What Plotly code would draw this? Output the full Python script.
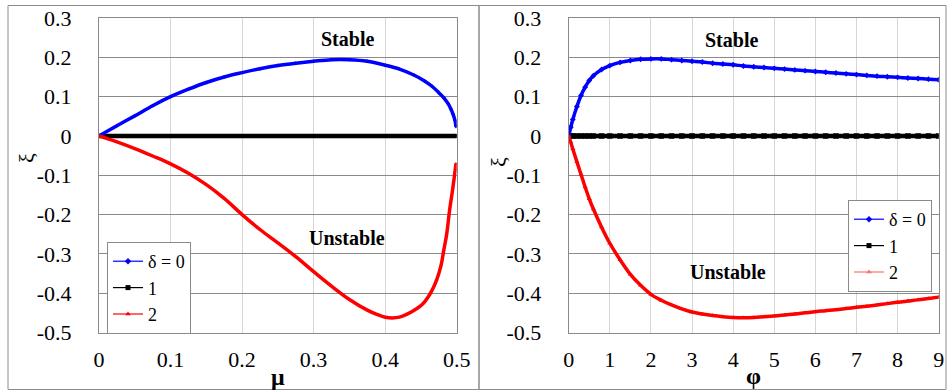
import plotly.graph_objects as go

# ---- left panel: xi versus mu ----
mu_blue = [0, 0.025, 0.05, 0.075, 0.1, 0.125, 0.15, 0.175, 0.2, 0.225, 0.25, 0.275, 0.3,
           0.325, 0.35, 0.375, 0.4, 0.42, 0.44, 0.455, 0.465, 0.475, 0.482, 0.488, 0.492,
           0.495, 0.4975, 0.499]
xi_blue = [0, 0.026, 0.051, 0.077, 0.1, 0.119, 0.136, 0.15, 0.161, 0.171, 0.179, 0.185, 0.19,
           0.194, 0.194, 0.19, 0.18, 0.17, 0.155, 0.14, 0.127, 0.11, 0.097, 0.082, 0.068,
           0.055, 0.04, 0.024]

mu_black = [0, 0.025, 0.05, 0.075, 0.1, 0.125, 0.15, 0.175, 0.2, 0.225, 0.25, 0.275, 0.3,
            0.325, 0.35, 0.375, 0.4, 0.425, 0.45, 0.475, 0.5]
xi_black = [0] * 21

mu_red = [0, 0.025, 0.05, 0.075, 0.1, 0.125, 0.15, 0.175, 0.2, 0.225, 0.25, 0.275, 0.3,
          0.325, 0.35, 0.375, 0.39, 0.4, 0.41, 0.42, 0.43, 0.44, 0.449, 0.456, 0.464,
          0.472, 0.478, 0.482, 0.486, 0.49, 0.494, 0.497, 0.499]
xi_red = [0, -0.015, -0.032, -0.051, -0.071, -0.095, -0.124, -0.159, -0.2, -0.238, -0.272,
          -0.307, -0.345, -0.382, -0.416, -0.443, -0.455, -0.461, -0.463, -0.461, -0.454,
          -0.444, -0.433, -0.42, -0.398, -0.366, -0.33, -0.29, -0.25, -0.19, -0.14, -0.1,
          -0.07]

# ---- right panel: xi versus phi ----
phi = [0, 0.05, 0.1, 0.2, 0.3, 0.4, 0.5, 0.6, 0.8, 1.0, 1.25, 1.5, 1.75, 2.0, 2.25, 2.5,
       2.75, 3.0, 3.25, 3.5, 3.75, 4.0, 4.25, 4.5, 4.75, 5.0, 5.25, 5.5, 5.75, 6.0, 6.25,
       6.5, 6.75, 7.0, 7.25, 7.5, 7.75, 8.0, 8.25, 8.5, 8.75, 9.0]
xi_blue_phi = [0, 0.022, 0.042, 0.075, 0.103, 0.124, 0.141, 0.153, 0.169, 0.179, 0.187,
               0.192, 0.195, 0.196, 0.196, 0.194, 0.192, 0.19, 0.188, 0.185, 0.183, 0.181,
               0.178, 0.176, 0.174, 0.172, 0.170, 0.168, 0.166, 0.164, 0.162, 0.160, 0.158,
               0.156, 0.154, 0.152, 0.1505, 0.149, 0.1475, 0.146, 0.1445, 0.143]
xi_black_phi = [0] * len(phi)
xi_red_phi = [0, -0.016, -0.033, -0.066, -0.098, -0.13, -0.16, -0.186, -0.232, -0.273,
              -0.315, -0.352, -0.38, -0.403, -0.418, -0.43, -0.44, -0.448, -0.453, -0.457,
              -0.46, -0.462, -0.4625, -0.462, -0.46, -0.458, -0.4555, -0.453, -0.45, -0.447,
              -0.4445, -0.442, -0.439, -0.436, -0.433, -0.43, -0.4265, -0.423, -0.42,
              -0.417, -0.4135, -0.41]

# ---- ticks and labels ----
y_tickvals = [0.3, 0.2, 0.1, 0, -0.1, -0.2, -0.3, -0.4, -0.5]
y_ticktext = ["0.3", "0.2", "0.1", "0", "-0.1", "-0.2", "-0.3", "-0.4", "-0.5"]
mu_tickvals = [0, 0.1, 0.2, 0.3, 0.4, 0.5]
mu_ticktext = ["0", "0.1", "0.2", "0.3", "0.4", "0.5"]
phi_tickvals = [0, 1, 2, 3, 4, 5, 6, 7, 8, 9]
phi_ticktext = ["0", "1", "2", "3", "4", "5", "6", "7", "8", "9"]
legend_names = ["δ = 0", "1", "2"]

SERIF = "Liberation Serif"
BLUE, BLACK, RED = "#0000ff", "#000000", "#ff0000"
W, H = 947, 392

fig = go.Figure()


def add_curves(x_b, y_b, x_k, y_k, x_r, y_r, xa, ya, msize):
    fig.add_trace(go.Scatter(x=x_k, y=y_k, mode="lines+markers", xaxis=xa, yaxis=ya,
                             line=dict(color=BLACK, width=4.5),
                             marker=dict(symbol="square", size=msize + 1, color=BLACK),
                             showlegend=False, hoverinfo="skip"))
    fig.add_trace(go.Scatter(x=x_b, y=y_b, mode="lines+markers", xaxis=xa, yaxis=ya,
                             line=dict(color=BLUE, width=3.5, shape="spline", smoothing=1),
                             marker=dict(symbol="diamond", size=msize, color=BLUE),
                             showlegend=False, hoverinfo="skip"))
    fig.add_trace(go.Scatter(x=x_r, y=y_r, mode="lines+markers", xaxis=xa, yaxis=ya,
                             line=dict(color=RED, width=3.5, shape="spline", smoothing=1),
                             marker=dict(symbol="triangle-up", size=msize, color=RED),
                             showlegend=False, hoverinfo="skip"))


add_curves(mu_blue, xi_blue, mu_black, xi_black, mu_red, xi_red, "x", "y", 3)
add_curves(phi, xi_blue_phi, phi, xi_black_phi, phi, xi_red_phi, "x2", "y2", 4.5)

# legend entries (thin line with a small marker)
for leg, xa, ya, red_key in (("legend", "x", "y", RED), ("legend2", "x2", "y2", "#ff7070")):
    for name, col, sym in zip(legend_names, (BLUE, BLACK, red_key),
                              ("diamond", "square", "triangle-up")):
        fig.add_trace(go.Scatter(x=[None], y=[None], mode="lines+markers", name=name,
                                 xaxis=xa, yaxis=ya, legend=leg,
                                 line=dict(color=col, width=1.2),
                                 marker=dict(symbol=sym, size=5, color=col)))

x_dom_left = [99 / W, 456.7 / W]
x_dom_right = [568.7 / W, 938.7 / W]
y_dom = [(H - 332.5) / H, (H - 18) / H]

GRID_H = "#8a8a8a"
GRID_V = "#d6d6d6"
FRAME = "#8a8a8a"
tick_font = dict(family=SERIF, size=22, color="#000")

# x tick marks are invisible; their length only spaces the labels from the axis
common_x = dict(showgrid=True, gridcolor=GRID_V, gridwidth=1, zeroline=False,
                showline=True, linecolor=FRAME, linewidth=1, mirror=True,
                ticks="outside", ticklen=7, tickcolor="rgba(0,0,0,0)",
                tickfont=tick_font, automargin=False, fixedrange=True)
common_y = dict(showgrid=True, gridcolor=GRID_H, gridwidth=1, zeroline=False,
                showline=True, linecolor=FRAME, linewidth=1, mirror=True, ticks="",
                range=[-0.5, 0.3], tickvals=y_tickvals, ticktext=y_ticktext,
                tickfont=tick_font, ticklabelstandoff=22, automargin=False,
                domain=y_dom, fixedrange=True)

legend_common = dict(xanchor="left", yanchor="top", bgcolor="white", bordercolor=FRAME,
                     borderwidth=1, font=dict(family=SERIF, size=18, color="#000"),
                     tracegroupgap=0, itemwidth=30)

fig.update_layout(
    width=W, height=H,
    margin=dict(l=0, r=0, t=0, b=0, autoexpand=False),
    font=dict(family=SERIF, color="#000"),
    paper_bgcolor="white", plot_bgcolor="white",
    xaxis=dict(common_x, domain=x_dom_left, range=[0, 0.5],
               tickvals=mu_tickvals, ticktext=mu_ticktext, anchor="y"),
    yaxis=dict(common_y, anchor="x"),
    xaxis2=dict(common_x, domain=x_dom_right, range=[0, 9],
                tickvals=phi_tickvals, ticktext=phi_ticktext, anchor="y2"),
    yaxis2=dict(common_y, anchor="x2"),
    legend=dict(legend_common, x=107 / W, y=(H - 242) / H),
    legend2=dict(legend_common, x=848 / W, y=(H - 200) / H),
)

# outer frames around the two panels
for x0, x1 in ((8, 479), (479, 946)):
    fig.add_shape(type="rect", xref="paper", yref="paper",
                  x0=x0 / W, x1=x1 / W, y0=(H - 389.5) / H, y1=(H - 5.5) / H,
                  line=dict(color="#8c8c8c", width=1), layer="below")

label_font = dict(family=SERIF, size=20, color="#000")
annotations = [
    dict(x=0.347, y=0.247, xref="x", yref="y", text="<b>Stable</b>"),
    dict(x=0.347, y=-0.26, xref="x", yref="y", text="<b>Unstable</b>"),
    dict(x=3.95, y=0.245, xref="x2", yref="y2", text="<b>Stable</b>"),
    dict(x=3.88, y=-0.346, xref="x2", yref="y2", text="<b>Unstable</b>"),
]
for a in annotations:
    fig.add_annotation(**a, showarrow=False, font=label_font,
                       xanchor="center", yanchor="middle")

# axis titles
fig.add_annotation(x=0.5, xref="x domain", y=(H - 377) / H, yref="paper", text="<b>μ</b>",
                   showarrow=False, xanchor="center", yanchor="middle",
                   font=dict(family=SERIF, size=24, color="#000"))
fig.add_annotation(x=0.5, xref="x2 domain", y=(H - 376) / H, yref="paper", text="<b>φ</b>",
                   showarrow=False, xanchor="center", yanchor="middle",
                   font=dict(family=SERIF, size=24, color="#000"))
fig.add_annotation(x=27 / W, y=(H - 158) / H, xref="paper", yref="paper", text="ξ",
                   textangle=-90, showarrow=False, xanchor="center", yanchor="middle",
                   font=dict(family=SERIF, size=22, color="#000"))
fig.add_annotation(x=499 / W, y=(H - 162) / H, xref="paper", yref="paper", text="ξ",
                   textangle=-90, showarrow=False, xanchor="center", yanchor="middle",
                   font=dict(family=SERIF, size=22, color="#000"))

fig.write_html("out.html")
